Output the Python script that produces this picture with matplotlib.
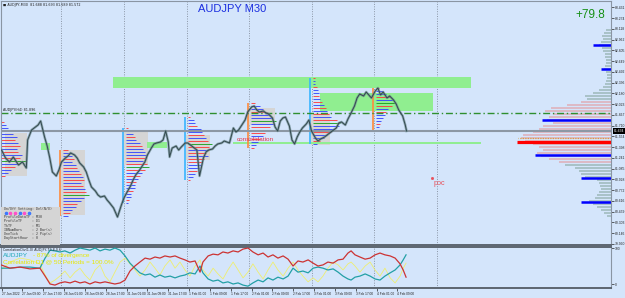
import numpy as np
import matplotlib
matplotlib.use("Agg")
import matplotlib.pyplot as plt
from matplotlib.patches import Rectangle
from matplotlib.transforms import blended_transform_factory as blend

plt.rcParams['font.family'] = ['Liberation Sans', 'DejaVu Sans']

W, H = 625, 298
BG = '#d4e5fb'

# ---------------- data ----------------
price_hours = [1.0, 2.5, 4.0, 5.5, 7.5, 9.0, 10.5, 11.0, 12.5, 14.0, 15.0, 16.0, 17.5, 18.5, 19.5, 20.5,
               22.0, 23.0, 24.0, 25.5, 26.5, 27.5, 29.0, 30.0, 31.0, 32.5, 33.5, 34.5, 35.5, 37.0, 38.0,
               39.0, 40.5, 41.5, 42.5, 44.0, 45.0, 45.5, 47.0, 48.0, 49.0, 50.5, 51.5, 52.5, 54.0, 55.0,
               56.0, 57.0, 58.5, 59.5, 60.5, 62.0, 63.0, 64.0, 65.0, 65.5, 66.5, 68.0, 69.0, 70.0, 71.5,
               72.5, 73.5, 75.0, 76.0, 77.0, 78.5, 79.5, 80.5, 82.0, 83.0, 84.0, 85.5, 86.5, 87.5, 88.5,
               90.0, 91.0, 92.0, 93.5, 94.5, 95.5, 97.0, 98.0, 99.0, 100.0, 101.5, 102.5, 103.5, 105.0,
               106.0, 107.0, 108.0, 109.0, 110.0, 111.5, 112.5, 113.5, 114.5, 115.5, 116.5, 118.0, 119.0,
               120.0, 121.5, 122.5, 123.5, 125.0, 126.0, 127.0, 128.5, 129.5, 130.5, 131.5, 133.0, 134.0,
               135.0, 136.5, 137.5, 138.5, 140.0, 141.0, 142.0, 143.0, 144.5, 145.5, 146.5, 147.5, 149.0,
               150.0, 151.5, 152.5, 153.5, 155.0, 156.0, 156.5]
close = [81.357, 81.241, 81.183, 81.255, 81.139, 81.183, 81.095, 81.503, 81.648, 81.692, 81.721, 81.779,
         81.546, 81.415, 81.241, 81.037, 80.979, 81.066, 81.183, 81.241, 81.270, 81.314, 81.285, 81.241,
         81.168, 81.110, 81.037, 80.921, 80.819, 80.761, 80.703, 80.673, 80.688, 80.630, 80.586, 80.513,
         80.426, 80.382, 80.557, 80.659, 80.732, 80.833, 80.921, 80.994, 81.066, 81.124, 81.183, 81.285,
         81.386, 81.445, 81.459, 81.474, 81.503, 81.634, 81.474, 81.255, 81.386, 81.415, 81.357, 81.401,
         81.459, 81.459, 81.430, 81.386, 81.357, 80.979, 81.241, 81.328, 81.357, 81.372, 81.415, 81.445,
         81.459, 81.488, 81.474, 81.459, 81.677, 81.619, 81.648, 81.736, 81.794, 81.910, 81.983, 81.997,
         81.939, 81.910, 81.925, 81.896, 81.881, 81.823, 81.692, 81.634, 81.779, 81.823, 81.837, 81.706,
         81.503, 81.445, 81.546, 81.619, 81.677, 81.736, 81.794, 81.634, 81.532, 81.488, 81.517, 81.546,
         81.576, 81.605, 81.648, 81.677, 81.750, 81.765, 81.721, 81.808, 81.881, 81.997, 82.114, 82.172,
         82.143, 82.201, 82.158, 82.114, 82.216, 82.259, 82.158, 82.201, 82.114, 82.143, 82.085, 82.027,
         81.939, 81.852, 81.721, 81.634]
assert len(price_hours) == len(close)

# correlation indicator
ind_hours = [0.8, 4.2, 8.1, 11.9, 15.7, 17.7, 19.6, 21.5, 23.4, 25.3, 27.3, 29.2, 31.1, 33.0, 34.9, 36.9,
             38.8, 40.7, 42.6, 44.5, 46.5, 48.4, 50.3, 52.2, 54.1, 56.1, 58.0, 59.9, 61.8, 63.7, 65.7,
             67.6, 69.5, 71.4, 73.3, 75.3, 77.2, 78.3, 80.3, 82.2, 84.1, 86.0, 87.9, 89.9, 91.8, 93.7,
             95.6, 97.5, 99.5, 101.4, 103.3, 105.2, 107.1, 109.1, 111.0, 112.9, 114.8, 116.7, 118.7,
             120.6, 122.5, 124.4, 126.3, 128.3, 130.2, 132.1, 134.0, 135.2, 136.7, 138.6, 140.6, 142.5,
             144.4, 146.3, 148.2, 150.2, 152.1, 154.0, 155.2, 156.3]
corr_red = [53, 44, 47, 42, 44, 22, 0, -3, 3, 6, 3, 8, 3, 6, 0, 6, 3, 6, 3, 0,
            3, 11, 36, 50, 61, 72, 69, 75, 72, 78, 75, 78, 72, 67, 61, 64, 33, 61, 78, 83,
            81, 89, 86, 92, 89, 97, 100, 89, 81, 86, 75, 81, 72, 78, 69, 50, 64, 61, 67, 58,
            50, 53, 61, 58, 67, 69, 86, 92, 81, 75, 69, 72, 81, 86, 81, 78, 72, 56, 39, 19]
corr_teal = [44, 44, 47, 47, 44, 72, 94, 92, 89, 92, 86, 94, 100, 97, 94, 100, 92, 97, 94, 100,
             94, 78, 58, 44, 31, 25, 28, 19, 25, 19, 22, 17, 22, 25, 31, 28, 50, 31, 14, 8,
             11, 3, 6, 0, 3, -3, -6, 3, 11, 6, 17, 11, 19, 14, 22, 44, 33, 36, 31, 44,
             47, 44, 39, 42, 33, 22, 14, 11, 19, 22, 28, 22, 14, 11, 22, 31, 39, 53, 67, 81]
corr_yellow = [39, 61, 72, 67, 56, 25, 3, 11, 22, 36, 17, 33, 44, 25, 11, 39, 53, 22, 6, 33,
               61, 72, 56, 39, 22, 39, 61, 44, 25, 50, 67, 44, 61, 39, 22, 50, 67, 39, 22, 44,
               28, 14, 39, 61, 39, 17, 33, 56, 33, 14, 39, 61, 39, 22, 44, 61, 39, 22, 6, 17,
               6, 22, 44, 61, 53, 39, 56, 61, 50, 33, 50, 61, 39, 22, 44, 17, 3, 22, 44, 58]
assert len(ind_hours) == len(corr_red) == len(corr_teal) == len(corr_yellow)

# time axis
day_separators = [24, 48, 72, 96, 120, 144, 168]
time_label_hours = [1, 9, 17, 25, 33, 41, 49, 57, 65, 73, 81, 89, 97, 105, 113, 121, 129, 137, 145, 153]
time_labels = ['27 Jan 2022', '27 Jan 09:00', '27 Jan 17:00', '28 Jan 01:00', '28 Jan 09:00',
               '28 Jan 17:00', '31 Jan 01:00', '31 Jan 09:00', '31 Jan 17:00', '1 Feb 01:00',
               '1 Feb 09:00', '1 Feb 17:00', '2 Feb 01:00', '2 Feb 09:00', '2 Feb 17:00',
               '3 Feb 01:00', '3 Feb 09:00', '3 Feb 17:00', '4 Feb 01:00', '4 Feb 09:00']

# zones and levels
supply_zone = (43.8, 181.3, 82.259, 82.419)
range_box = (123.3, 166.7, 81.925, 82.187)
ib_boxes = [(16.1, 19.6, 81.357, 81.459), (56.8, 64.5, 81.386, 81.474)]
dashdot_level = 81.896
consolidation_level = (89.9, 185.1, 81.459)
poc_label = (166.7, 80.877)

# market profile per day (TPO counts, top -> bottom)
tpo_day_start = [0, 24, 48, 72, 96, 120, 144]
tpo_top = [81.765, 81.357, 81.677, 81.837, 82.041, 82.405, 82.259]
tpo_step = 0.0437
tpo_counts = [
    [3, 5, 6, 8, 11, 14, 12, 15, 17, 14, 15, 18, 17, 22, 15, 12, 9, 6, 4],
    [4, 6, 8, 9, 8, 11, 12, 14, 15, 17, 18, 15, 17, 19, 20, 22, 18, 15, 12, 11, 8, 6, 4],
    [2, 4, 6, 8, 9, 12, 14, 15, 17, 18, 17, 15, 18, 20, 17, 14, 12, 11, 9, 8, 8, 6, 5, 5, 3, 2],
    [2, 5, 6, 8, 11, 12, 14, 15, 17, 20, 18, 17, 15, 17, 14, 12, 11, 9, 8, 6, 4, 2],
    [4, 8, 11, 14, 17, 18, 22, 20, 17, 15, 12, 11, 8, 6, 5, 3],
    [2, 2, 2, 3, 4, 5, 5, 6, 8, 9, 11, 12, 14, 15, 20, 23, 22, 18, 15, 12, 9, 6, 3],
    [3, 6, 9, 12, 15, 17, 14, 11, 9, 8, 6, 5, 4, 3, 2],
]
tpo_line_color = [None, '#ff8a3c', '#38b4ff', '#38b4ff', '#ff8a3c', '#38b4ff', '#ff8a3c']
va_start = [2.3, 23.8, 47.6, 71.8, 95.6, 119.8]
va_end = [10.75, 33.0, 57.2, 81.0, 106.0, 127.1]
va_hi = [81.605, 81.357, 81.648, 81.576, 81.968, 81.896]
va_lo = [80.979, 80.412, 81.139, 81.212, 81.721, 81.430]

# volume profile (right side)
prof_top = 83.103
prof_step = 0.0437
prof_vol = [5, 7, 9, 8, 10, 12, 9, 8, 6, 6, 5, 5, 6, 7, 5, 4, 4, 5, 6, 8, 12, 18, 26, 24, 30, 44,
            60, 66, 58, 62, 64, 58, 68, 72, 78, 88, 90, 86, 78, 72, 68, 74, 70, 62, 52, 46, 36, 32,
            30, 26, 14, 12, 11, 10, 12, 14, 16, 22, 18, 14, 10, 7, 4]
prof_va = (81.139, 82.085)
prof_blue_levels = [82.885, 82.536, 81.794, 81.285, 80.950, 80.601]
prof_blue_len = [18, 10, 69, 76, 30, 30]
prof_poc = (81.474, 94)
prof_dotted = (81.532, 93)

price_ticks = [79.990 + 0.1564 * k for k in range(23)]

# ---------------- figure ----------------
fig = plt.figure(figsize=(6.25, 2.98), dpi=100, facecolor=BG)


def frac(x0, y0, x1, y1):
    return [x0 / W, 1 - y1 / H, (x1 - x0) / W, (y1 - y0) / H]


pos_main = frac(1, 1, 611, 245)
pos_ind = frac(1, 247, 611, 288)
XLIM = (0.77, 235.0)
YLIM = (79.975, 83.525)

# profile axes (below)
axp = fig.add_axes(pos_main)
axp.set_facecolor(BG)
levels = prof_top - prof_step * np.arange(len(prof_vol))
pcols = ['#dcbac6' if prof_va[0] <= p <= prof_va[1] else '#a9c2c8' for p in levels]
axp.barh(levels, prof_vol, height=prof_step * 0.8, left=0, color=pcols, linewidth=0)
for p, w in zip(prof_blue_levels, prof_blue_len):
    axp.hlines(p, 0, w, color='#0000ff', lw=1.8)
axp.hlines(prof_poc[0], 0, prof_poc[1], color='#ff0000', lw=2.3)
axp.hlines(prof_dotted[0], 0, prof_dotted[1], color='#d8a040', lw=0.9, linestyles=(0, (1, 1)))
axp.set_xlim(610, 0)
axp.set_ylim(YLIM)
axp.axis('off')

# main axes
ax = fig.add_axes(pos_main)
ax.set_facecolor('none')
ax.set_zorder(axp.get_zorder() + 1)
ax.set_xlim(XLIM)
ax.set_ylim(YLIM)

for h in day_separators:
    ax.axvline(h, color='#8a95a5', lw=0.7, ls=(0, (1, 1.5)), zorder=0.5)

x0, x1, y0, y1 = supply_zone
ax.add_patch(Rectangle((x0, y0), x1 - x0, y1 - y0, color='#90ee90', lw=0, zorder=1))
x0, x1, y0, y1 = range_box
ax.add_patch(Rectangle((x0, y0), x1 - x0, y1 - y0, color='#90ee90', lw=0, zorder=1))
for (x0, x1, y0, y1) in ib_boxes:
    ax.add_patch(Rectangle((x0, y0), x1 - x0, y1 - y0, color='#90ee90', lw=0, zorder=1.2))
for s, e, hi, lo in zip(va_start, va_end, va_hi, va_lo):
    ax.add_patch(Rectangle((s, lo), e - s, hi - lo, color='#d5d5d5', lw=0, zorder=1.1))

# TPO letter rows
for d, (start, top, counts, lc) in enumerate(zip(tpo_day_start, tpo_top, tpo_counts, tpo_line_color)):
    n = len(counts)
    poc = int(np.argmax(counts))
    for i, c in enumerate(counts):
        p = top - i * tpo_step
        if i == poc:
            col = '#1aa01a'
        elif n / 3 <= i < 2 * n / 3:
            col = '#ff3a3a' if i % 2 == 0 else '#3344ff'
        else:
            col = '#3344ff' if i % 3 else '#ff3a3a'
        ax.hlines(p, start + 0.6, start + 0.6 + c * 0.45, color=col, lw=0.7, alpha=0.9, zorder=2)
    if lc is not None:
        ax.vlines(start - 0.4, top - (n - 1) * tpo_step, top, color=lc, lw=1.2, zorder=2)

ax.hlines(consolidation_level[2], consolidation_level[0], consolidation_level[1],
          color='#90ee90', lw=1.4, zorder=1.5)
ax.axhline(dashdot_level, color='#2f8f2f', lw=1.0, ls=(0, (5, 2, 1, 2)), zorder=2.5)
ax.axhline(close[-1], color='#8c97a4', lw=1.5, zorder=2.6)

ax.plot(price_hours, close, color='#6f8c92', lw=1.8, alpha=0.7, zorder=3)
ax.plot(price_hours, close, color='#33494e', lw=0.7, zorder=3.1)

ax.text(91.4, 81.503, 'consolidation', color='#e8344a', fontsize=4.6, va='center', ha='left', zorder=4)
ax.text(poc_label[0], poc_label[1], 'poc', color='#e8505a', fontsize=5.2, va='center', ha='left', zorder=4)
ax.plot([poc_label[0] - 0.3], [poc_label[1] + 0.07], marker='s', ms=1, color='#e8505a')

ax.yaxis.tick_right()
ax.set_yticks(price_ticks)
ax.set_yticklabels([f'{v:.3f}' for v in price_ticks])
ax.tick_params(axis='y', labelsize=2.4, length=2, width=0.5, colors='#222222', pad=1)
ax.set_xticks([])
for sp in ax.spines.values():
    sp.set_color('#8a95a3')
    sp.set_linewidth(0.8)
ax.spines['bottom'].set_color('#5c6570')
ax.spines['bottom'].set_linewidth(1.4)

tr = blend(ax.transAxes, ax.transData)
ax.text(1.004, close[-1], f'{close[-1]:.3f}', transform=tr, fontsize=2.4, color='white', va='center',
        ha='left', bbox=dict(boxstyle='square,pad=0.25', fc='black', ec='none'))

ax.text(0.004, 0.992, '\u25a0 AUDJPY,M30  81.688 81.693 81.589 81.572', transform=ax.transAxes,
        fontsize=2.4, color='#222222', va='top', ha='left', family='DejaVu Sans')
ax.text(0.004, dashdot_level + 0.02, 'AUDJPY(H4) 81.896', fontsize=2.4, color='#222222',
        transform=tr, va='bottom', ha='left', family='DejaVu Sans')

# info panel
ax.add_patch(Rectangle((0, 0), 0.097, 0.156, transform=ax.transAxes, color='#d5d5d5', lw=0, zorder=3.5))
info_lines = ['On/Off Setting: Del(N/O)', None, 'ProfileDataTF : M30', 'ProfileTF     : D1',
              'TkTF          : M1', 'IBNumBars     : 2 Bar(s)', 'OneTick       : 2 Pip(s)',
              'DayStartHour  : 0']
for k, txt in enumerate(info_lines):
    yy = 0.148 - k * 0.0172
    if txt is None:
        for j, c in enumerate(['#3c78ff', '#ff50c8', '#ff50c8', '#3c78ff', '#ff50c8', '#3c78ff']):
            ax.plot(0.008 + j * 0.0075, yy, 'o', ms=1.6, color=c, transform=ax.transAxes, zorder=3.6)
    else:
        ax.text(0.005, yy, txt, transform=ax.transAxes, fontsize=2.3, color='#333333',
                va='center', ha='left', family='DejaVu Sans Mono', zorder=3.6)

fig.text(198 / W, 1 - 9 / H, 'AUDJPY M30', color='#1c2fe0', fontsize=8, va='center', ha='left')
fig.text(605 / W, 1 - 15 / H, '+79.8', color='#169016', fontsize=8.5, va='center', ha='right')

# indicator axes
axi = fig.add_axes(pos_ind)
axi.set_facecolor(BG)
axi.set_xlim(XLIM)
axi.set_ylim(-11.1, 102.8)
for h in day_separators:
    axi.axvline(h, color='#8a95a5', lw=0.7, ls=(0, (1, 1.5)), zorder=0.5)
axi.plot(ind_hours, corr_yellow, color='#eeee70', lw=0.6, zorder=2)
axi.plot(ind_hours, corr_teal, color='#23a0a6', lw=0.9, zorder=3)
axi.plot(ind_hours, corr_red, color='#cc3333', lw=0.9, zorder=3)
axi.text(0.004, 0.97, 'CorrelationDiv(1.0) AUDJPY,79.8,0.6', transform=axi.transAxes, fontsize=2.3,
         color='#222222', va='top', ha='left', family='DejaVu Sans')
axi.text(0.004, 0.80, 'AUDJPY', transform=axi.transAxes, fontsize=4.6, color='#20a8b8', va='center')
axi.text(0.052, 0.80, '- 87% of divergence', transform=axi.transAxes, fontsize=4.6, color='#e8e800',
         va='center')
axi.text(0.004, 0.64, 'Correlation D1 @ 50 Periods = 100.0%', transform=axi.transAxes, fontsize=4.6,
         color='#e8e800', va='center')
axi.yaxis.tick_right()
axi.set_yticks([0, 100])
axi.set_yticklabels(['0', '100'])
axi.tick_params(axis='y', labelsize=2.4, length=2, width=0.5, colors='#222222', pad=1)
axi.set_xticks(time_label_hours)
axi.set_xticklabels(time_labels)
axi.tick_params(axis='x', labelsize=2.3, length=2, width=0.5, colors='#222222', pad=1)
for lab in axi.get_xticklabels():
    lab.set_ha('left')
for sp in axi.spines.values():
    sp.set_color('#8a95a3')
    sp.set_linewidth(0.8)
axi.spines['top'].set_color('#5c6570')
axi.spines['top'].set_linewidth(1.4)
axi.spines['bottom'].set_color('#5c6570')
axi.spines['bottom'].set_linewidth(1.4)

fig.savefig('out.png', dpi=100, facecolor=BG)
